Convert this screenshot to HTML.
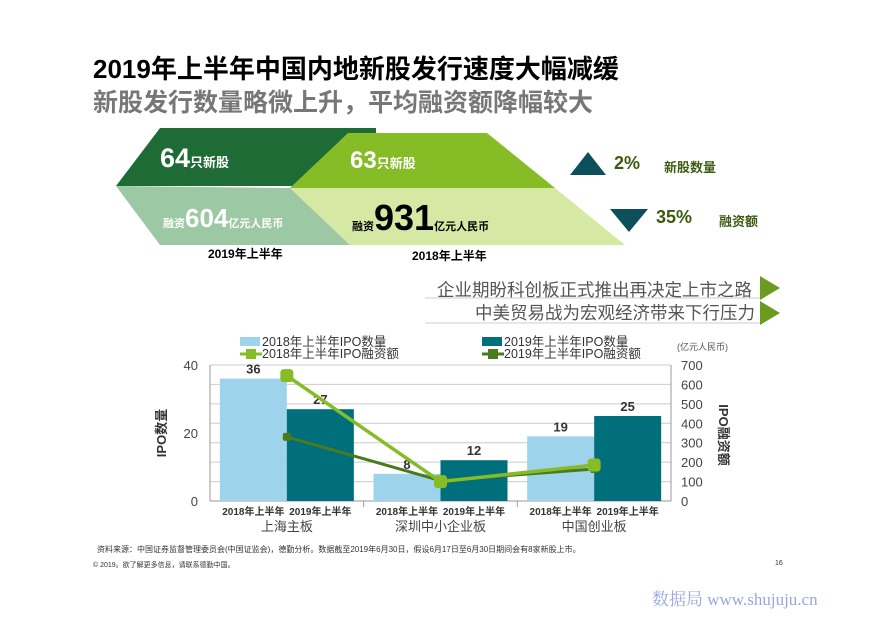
<!DOCTYPE html>
<html><head><meta charset="utf-8"><style>
body{margin:0;width:877px;height:620px;background:#fff;overflow:hidden;font-family:"Liberation Sans","Noto Sans CJK SC",sans-serif;position:relative}
.a{position:absolute;white-space:nowrap}
</style></head><body>
<div class="a" style="left:93px;top:49px;font-size:26px;font-weight:bold;color:#000">2019年上半年中国内地新股发行速度大幅减缓</div>
<div class="a" style="left:93px;top:83px;font-size:25px;font-weight:bold;color:#777">新股发行数量略微上升，平均融资额降幅较大</div>
<svg class="a" style="left:0;top:0" width="877" height="620">
<polygon points="116,186 160,128 376,128 376,186" fill="#1f6b36"/>
<polygon points="116,186 290,188 350,245 160,245" fill="#9cc9a3"/>
<polygon points="290,188 348,133 487,133 555,188" fill="#86bc25"/>
<polygon points="290,188 555,188 625,245 350,245" fill="#d5e8a4"/>
<polygon points="570,175 588,152 606,175" fill="#0d4f5a"/>
<polygon points="610,209 648,209 629,232" fill="#0d4f5a"/>
<line x1="425" y1="298" x2="760" y2="298" stroke="#ccc"/>
<line x1="425" y1="323" x2="760" y2="323" stroke="#ccc"/>
<polygon points="760,276 780,288 760,300" fill="#6a9a1f"/>
<polygon points="760,301 780,313 760,325" fill="#6a9a1f"/>
</svg>
<div class="a" style="left:160px;top:143px;color:#fff;font-weight:bold"><span style="font-size:27px">64</span><span style="font-size:13px">只新股</span></div>
<div class="a" style="left:350px;top:147px;color:#fff;font-weight:bold"><span style="font-size:24px">63</span><span style="font-size:13px">只新股</span></div>
<div class="a" style="left:163px;top:203px;color:#fff;font-weight:bold"><span style="font-size:11px">融资</span><span style="font-size:26px">604</span><span style="font-size:11px">亿元人民币</span></div>
<div class="a" style="left:352px;top:197px;color:#000;font-weight:bold"><span style="font-size:11px">融资</span><span style="font-size:36px">931</span><span style="font-size:11px">亿元人民币</span></div>
<div class="a" style="left:208px;top:245px;font-size:12px;font-weight:bold">2019年上半年</div>
<div class="a" style="left:412px;top:247px;font-size:12px;font-weight:bold">2018年上半年</div>
<div class="a" style="left:614px;top:153px;font-size:18px;font-weight:bold;color:#3d5a10">2%</div>
<div class="a" style="left:664px;top:157px;font-size:13px;font-weight:bold;color:#3d5a10">新股数量</div>
<div class="a" style="left:656px;top:207px;font-size:18px;font-weight:bold;color:#3d5a10">35%</div>
<div class="a" style="left:719px;top:211px;font-size:13px;font-weight:bold;color:#3d5a10">融资额</div>
<div class="a" style="left:437px;top:277px;font-size:17.5px;color:#555">企业期盼科创板正式推出再决定上市之路</div>
<div class="a" style="left:475px;top:300px;font-size:17.5px;color:#555">中美贸易战为宏观经济带来下行压力</div>
<svg id="chart" class="a" style="left:0;top:0" width="877" height="620"></svg>
<div class="a" style="left:97px;top:544px;font-size:8px;color:#333">资料来源：中国证券监督管理委员会(中国证监会)，德勤分析。数据截至2019年6月30日，假设6月17日至6月30日期间会有8家新股上市。</div>
<div class="a" style="left:93px;top:560px;font-size:7px;color:#333">© 2019。欲了解更多信息，请联系德勤中国。</div>
<div class="a" style="left:775px;top:560px;font-size:7px;color:#333">16</div>
<div class="a" style="left:652px;top:585px;font-size:17px;color:#9aa6e0;font-family:'Liberation Serif','Noto Serif CJK SC',serif">数据局 www.shujuju.cn</div>
<script>
const categories=["上海主板","深圳中小企业板","中国创业板"];
const count2018=[36,8,19];
const count2019=[27,12,25];
const amount2018=[645,100,185];
const amount2019=[330,105,165];
const leftTicks=[0,20,40];
const rightTicks=[0,100,200,300,400,500,600,700];
const svg=document.getElementById('chart');const NS='http://www.w3.org/2000/svg';
function el(t,a,txt){const e=document.createElementNS(NS,t);for(const k in a)e.setAttribute(k,a[k]);if(txt!==undefined)e.textContent=txt;svg.appendChild(e);return e;}
const x0=210,x1=671,yB=501,yT=365;
const yL=v=>yB-(v/40)*(yB-yT);
const yR=v=>yB-(v/700)*(yB-yT);
const gw=(x1-x0)/categories.length;
const gc=i=>x0+gw*(i+0.5);
const bw=67;
const F='"Liberation Sans","Noto Sans CJK SC",sans-serif';
rightTicks.forEach(v=>{const g=el('line',{x1:x0,x2:x1,y1:yR(v),y2:yR(v),stroke:'#ccc'});

const t=el('text',{x:x1+10,y:yR(v)+5,'font-size':13,fill:'#444','font-family':F},v);
});
leftTicks.forEach(v=>{const t=el('text',{x:x0-12,y:yL(v)+5,'font-size':13,fill:'#444','text-anchor':'end','font-family':F},v);
});
el('line',{x1:x0,x2:x0,y1:yT,y2:yB,stroke:'#999'});
el('line',{x1:x1,x2:x1,y1:yT,y2:yB,stroke:'#999'});
el('line',{x1:x0,x2:x1,y1:yB,y2:yB,stroke:'#999'});
categories.forEach((c,i)=>{
 const cx=gc(i);
 const b1=el('rect',{x:cx-bw,y:yL(count2018[i]),width:bw,height:yB-yL(count2018[i]),fill:'#9ed3ec'});
 
 const b2=el('rect',{x:cx,y:yL(count2019[i]),width:bw,height:yB-yL(count2019[i]),fill:'#006f7c'});
 
 el('text',{x:cx-bw/2,y:yL(count2018[i])-5,'font-size':13,'font-weight':'bold','text-anchor':'middle',fill:'#333','font-family':F},count2018[i]);
 el('text',{x:cx+bw/2,y:yL(count2019[i])-5,'font-size':13,'font-weight':'bold','text-anchor':'middle',fill:'#333','font-family':F},count2019[i]);
 el('text',{x:cx-bw/2,y:515,'font-size':10,'font-weight':'bold','text-anchor':'middle',fill:'#333','font-family':F},'2018年上半年');
 el('text',{x:cx+bw/2,y:515,'font-size':10,'font-weight':'bold','text-anchor':'middle',fill:'#333','font-family':F},'2019年上半年');
 const l=el('text',{x:cx,y:531,'font-size':13,'text-anchor':'middle',fill:'#444','font-family':F},c);
 
 if(i>0)el('line',{x1:x0+gw*i,x2:x0+gw*i,y1:yB,y2:yB+6,stroke:'#999'});
});
function line(data,color,w,ms,name){
 const p=el('polyline',{points:data.map((v,i)=>gc(i)+','+yR(v)).join(' '),fill:'none',stroke:color,'stroke-width':w});
 
 data.forEach((v,i)=>{const m=el('rect',{x:gc(i)-ms/2,y:yR(v)-ms/2,width:ms,height:ms,rx:ms/4,fill:color});
 });
}
line(amount2019,'#4a7a1e',3,8,'line-2019-amount');
line(amount2018,'#86bc25',3.5,13,'line-2018-amount');
el('text',{x:0,y:0,'font-size':13,'font-weight':'bold',fill:'#333','font-family':F,transform:'translate(166,433) rotate(-90)','text-anchor':'middle'},'IPO数量');
el('text',{x:0,y:0,'font-size':13,'font-weight':'bold',fill:'#333','font-family':F,transform:'translate(719,435) rotate(90)','text-anchor':'middle'},'IPO融资额');
el('text',{x:677,y:350,'font-size':9,fill:'#555','font-family':F},'(亿元人民币)');
function lg(x,y,kind,color,label){
 if(kind==='bar')el('rect',{x:x,y:y-9,width:20,height:9,fill:color});
 else{el('line',{x1:x,x2:x+22,y1:y-4,y2:y-4,stroke:color,'stroke-width':3});el('rect',{x:x+6,y:y-9,width:10,height:10,fill:color});}
 const t=el('text',{x:x+22,y:y,'font-size':12.5,fill:'#333','font-family':F},label);
 
}
lg(240,346,'bar','#9ed3ec','2018年上半年IPO数量');
lg(482,346,'bar','#006f7c','2019年上半年IPO数量');
lg(240,358,'line','#86bc25','2018年上半年IPO融资额');
lg(482,358,'line','#4a7a1e','2019年上半年IPO融资额');
</script>
</body></html>
